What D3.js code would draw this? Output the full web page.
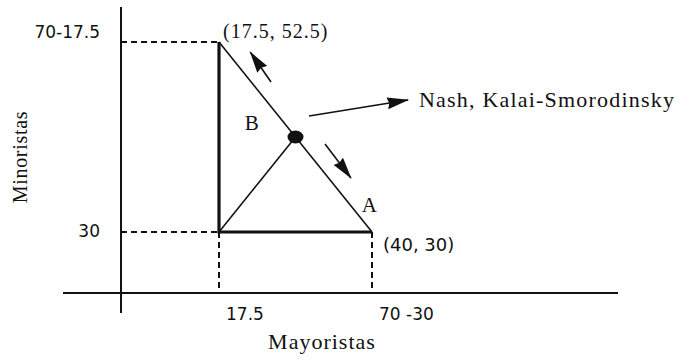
<!DOCTYPE html>
<html>
<head>
<meta charset="utf-8">
<script src="https://cdn.jsdelivr.net/npm/d3@7"></script>
<style>
  body { margin: 0; background: #fff; }
  .serif { font-family: "Liberation Serif", serif; fill: #111; }
  .sans { font-family: "DejaVu Sans", sans-serif; fill: #111; }
</style>
</head>
<body>
<div id="chart"></div>
<script>
// values (data units, not to scale on purpose)
const xTicks = [17.5, 40];
const xTickLabels = ["17.5", "70 -30"];
const yTicks = [30, 52.5];
const yTickLabels = ["30", "70-17.5"];

const disagreement = [17.5, 30];
const frontier = [[17.5, 52.5], [40, 30]];
const nash = [28.75, 41.25];

const cornerLabels = ["(17.5, 52.5)", "(40, 30)"];
const cornerPoints = [[17.5, 52.5], [40, 30]];

const regionNames = ["A", "B"];
const regionAt = [[38.5, 32.4], [21.3, 42.1]];

// arrows: [from, to]
const arrows = [
    [[25.15, 47.76], [22.1, 51.3]],
    [[33.09, 40.42], [36.9, 36.4]],
    [[30.74, 43.74], [45.3, 45.63]]
];
const nashLabel = "Nash, Kalai-Smorodinsky";

const axisX = 3.09, axisY = 22.78;   // where the two axes cross
const xExtent = [-5.44, 76.18];
const yExtent = [20.41, 56.65];

const width = 681, height = 361;

const x = d3.scaleLinear().domain([17.5, 40]).range([219, 372]);
const y = d3.scaleLinear().domain([30, 52.5]).range([232, 42]);

const svg = d3.select("#chart").append("svg")
    .attr("width", width)
    .attr("height", height);

svg.append("defs").append("marker")
    .attr("id", "head")
    .attr("markerUnits", "userSpaceOnUse")
    .attr("viewBox", "0 0 22 12")
    .attr("markerWidth", 22)
    .attr("markerHeight", 12)
    .attr("refX", 21)
    .attr("refY", 6)
    .attr("orient", "auto")
    .append("path")
    .attr("d", "M0,0 L22,6 L0,12 L2,6 Z")
    .attr("fill", "#111");

// axes
svg.append("line")
    .attr("x1", x(axisX)).attr("x2", x(axisX))
    .attr("y1", y(yExtent[1])).attr("y2", y(yExtent[0]))
    .attr("stroke", "#111").attr("stroke-width", 2);
svg.append("line")
    .attr("x1", x(xExtent[0])).attr("x2", x(xExtent[1]))
    .attr("y1", y(axisY)).attr("y2", y(axisY))
    .attr("stroke", "#111").attr("stroke-width", 2);

// dashed guides
const dash = "6,4";
yTicks.forEach(v => {
    svg.append("line")
        .attr("x1", x(axisX)).attr("x2", x(17.5))
        .attr("y1", y(v)).attr("y2", y(v))
        .attr("stroke", "#111").attr("stroke-width", 2)
        .attr("stroke-dasharray", dash);
});
xTicks.forEach(v => {
    svg.append("line")
        .attr("x1", x(v)).attr("x2", x(v))
        .attr("y1", y(30)).attr("y2", y(axisY))
        .attr("stroke", "#111").attr("stroke-width", 2)
        .attr("stroke-dasharray", dash);
});

// thick sides of the bargaining set
svg.append("path")
    .attr("d", d3.line()([
        [x(frontier[0][0]), y(frontier[0][1])],
        [x(disagreement[0]), y(disagreement[1])],
        [x(frontier[1][0]), y(frontier[1][1])]
    ]))
    .attr("fill", "none")
    .attr("stroke", "#111")
    .attr("stroke-width", 3.2);

// frontier
svg.append("line")
    .attr("x1", x(frontier[0][0])).attr("y1", y(frontier[0][1]))
    .attr("x2", x(frontier[1][0])).attr("y2", y(frontier[1][1]))
    .attr("stroke", "#111").attr("stroke-width", 1.6);

// ray from disagreement point to the solution
svg.append("line")
    .attr("x1", x(disagreement[0])).attr("y1", y(disagreement[1]))
    .attr("x2", x(nash[0])).attr("y2", y(nash[1]))
    .attr("stroke", "#111").attr("stroke-width", 1.6);

svg.append("ellipse")
    .attr("cx", x(nash[0])).attr("cy", y(nash[1]))
    .attr("rx", 8).attr("ry", 6.5)
    .attr("fill", "#111");

// arrows
svg.selectAll(".arrow")
    .data(arrows)
    .enter().append("line")
    .attr("class", "arrow")
    .attr("x1", d => x(d[0][0])).attr("y1", d => y(d[0][1]))
    .attr("x2", d => x(d[1][0])).attr("y2", d => y(d[1][1]))
    .attr("stroke", "#111").attr("stroke-width", 1.6)
    .attr("marker-end", "url(#head)");

// tick labels
svg.selectAll(".ylab")
    .data(yTicks)
    .enter().append("text")
    .attr("class", "sans")
    .attr("x", 100)
    .attr("y", d => y(d) + (d === 30 ? 5 : -4))
    .attr("text-anchor", "end")
    .attr("font-size", 17)
    .text((d, i) => yTickLabels[i]);

svg.selectAll(".xlab")
    .data(xTicks)
    .enter().append("text")
    .attr("class", "sans")
    .attr("x", d => x(d) + 7)
    .attr("y", y(axisY) + 27)
    .attr("font-size", 17)
    .text((d, i) => xTickLabels[i]);

// corner labels
svg.append("text")
    .attr("class", "serif")
    .attr("x", x(cornerPoints[0][0]) + 4)
    .attr("y", y(cornerPoints[0][1]) - 4)
    .attr("font-size", 20)
    .attr("letter-spacing", 1)
    .text(cornerLabels[0]);
svg.append("text")
    .attr("class", "sans")
    .attr("x", x(cornerPoints[1][0]) + 11)
    .attr("y", y(cornerPoints[1][1]) + 19)
    .attr("font-size", 18)
    .text(cornerLabels[1]);

svg.selectAll(".region")
    .data(regionNames)
    .enter().append("text")
    .attr("class", "serif")
    .attr("x", (d, i) => x(regionAt[i][0]))
    .attr("y", (d, i) => y(regionAt[i][1]))
    .attr("font-size", 21)
    .text(d => d);

svg.append("text")
    .attr("class", "serif")
    .attr("x", x(arrows[2][1][0]) + 11)
    .attr("y", y(arrows[2][1][1]) + 7)
    .attr("font-size", 22)
    .attr("letter-spacing", 1.2)
    .text(nashLabel);

// axis titles
svg.append("text")
    .attr("class", "serif")
    .attr("x", 322)
    .attr("y", 349)
    .attr("text-anchor", "middle")
    .attr("font-size", 22)
    .attr("letter-spacing", 1)
    .text("Mayoristas");

svg.append("text")
    .attr("class", "serif")
    .attr("transform", "translate(27,157) rotate(-90)")
    .attr("text-anchor", "middle")
    .attr("font-size", 20)
    .attr("letter-spacing", 0.7)
    .text("Minoristas");
</script>
</body>
</html>
